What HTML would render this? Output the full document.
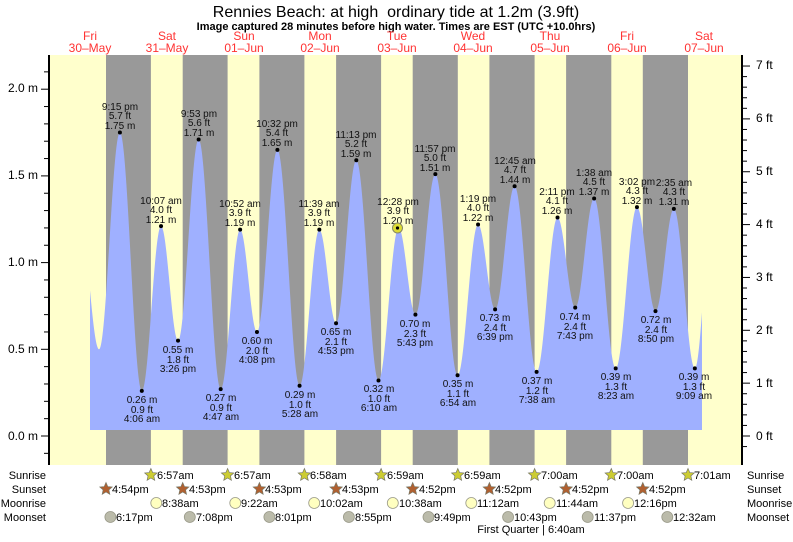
<!DOCTYPE html>
<html><head><meta charset="utf-8"><style>
body{margin:0;background:#fff;}
svg text{font-family:"Liberation Sans",sans-serif;}
</style></head><body>
<svg id="s" width="793" height="537" xmlns="http://www.w3.org/2000/svg">
<rect width="793" height="537" fill="#fff"/>
<text x="396" y="17" font-size="16" text-anchor="middle">Rennies Beach: at high&#160; ordinary tide at 1.2m (3.9ft)</text>
<text x="396" y="30" font-size="11" font-weight="bold" text-anchor="middle">Image captured 28 minutes before high water. Times are EST (UTC +10.0hrs)</text>
<g font-size="12" fill="#f33" text-anchor="middle">
<text x="90" y="40">Fri</text><text x="90" y="52">30–May</text>
<text x="167" y="40">Sat</text><text x="167" y="52">31–May</text>
<text x="244" y="40">Sun</text><text x="244" y="52">01–Jun</text>
<text x="320" y="40">Mon</text><text x="320" y="52">02–Jun</text>
<text x="397" y="40">Tue</text><text x="397" y="52">03–Jun</text>
<text x="473" y="40">Wed</text><text x="473" y="52">04–Jun</text>
<text x="550" y="40">Thu</text><text x="550" y="52">05–Jun</text>
<text x="627" y="40">Fri</text><text x="627" y="52">06–Jun</text>
<text x="704" y="40">Sat</text><text x="704" y="52">07–Jun</text>
</g>
<rect x="49" y="55" width="693" height="410" fill="#ffffcc"/>
<g fill="#999">
<rect x="106" y="55" width="44.9" height="410"/>
<rect x="182.7" y="55" width="44.9" height="410"/>
<rect x="259.4" y="55" width="45" height="410"/>
<rect x="336.1" y="55" width="45" height="410"/>
<rect x="412.7" y="55" width="45.1" height="410"/>
<rect x="489.4" y="55" width="45.2" height="410"/>
<rect x="566.1" y="55" width="45.2" height="410"/>
<rect x="642.8" y="55" width="45.2" height="410"/>
</g>
<path id="tide" fill="#9fb0ff" d=""/>
<g id="ticks" stroke="#000"></g>
<line x1="49" y1="55" x2="49" y2="465" stroke="#000" stroke-width="2"/>
<line x1="742" y1="55" x2="742" y2="465" stroke="#000" stroke-width="2"/>
<g font-size="12" text-anchor="end">
<text x="38" y="440">0.0 m</text><text x="38" y="353">0.5 m</text><text x="38" y="266">1.0 m</text><text x="38" y="179">1.5 m</text><text x="38" y="92">2.0 m</text>
</g>
<g font-size="12">
<text x="756" y="440">0 ft</text><text x="756" y="387">1 ft</text><text x="756" y="334">2 ft</text><text x="756" y="281">3 ft</text><text x="756" y="228">4 ft</text><text x="756" y="175">5 ft</text><text x="756" y="122">6 ft</text><text x="756" y="69">7 ft</text>
</g>
<g id="pts" fill="#000"></g>
<g font-size="10" text-anchor="middle" fill="#111">
<text x="120" y="110">9:15 pm</text><text x="120" y="119">5.7 ft</text><text x="120" y="129">1.75 m</text>
<text x="142" y="403">0.26 m</text><text x="142" y="413">0.9 ft</text><text x="142" y="422">4:06 am</text>
<text x="161" y="204">10:07 am</text><text x="161" y="213">4.0 ft</text><text x="161" y="223">1.21 m</text>
<text x="178" y="353">0.55 m</text><text x="178" y="363">1.8 ft</text><text x="178" y="372">3:26 pm</text>
<text x="199" y="117">9:53 pm</text><text x="199" y="126">5.6 ft</text><text x="199" y="136">1.71 m</text>
<text x="221" y="401">0.27 m</text><text x="221" y="411">0.9 ft</text><text x="221" y="420">4:47 am</text>
<text x="240" y="207">10:52 am</text><text x="240" y="216">3.9 ft</text><text x="240" y="226">1.19 m</text>
<text x="257" y="344">0.60 m</text><text x="257" y="354">2.0 ft</text><text x="257" y="363">4:08 pm</text>
<text x="277" y="127">10:32 pm</text><text x="277" y="136">5.4 ft</text><text x="277" y="146">1.65 m</text>
<text x="300" y="398">0.29 m</text><text x="300" y="408">1.0 ft</text><text x="300" y="417">5:28 am</text>
<text x="319" y="207">11:39 am</text><text x="319" y="216">3.9 ft</text><text x="319" y="226">1.19 m</text>
<text x="336" y="335">0.65 m</text><text x="336" y="345">2.1 ft</text><text x="336" y="354">4:53 pm</text>
<text x="356" y="138">11:13 pm</text><text x="356" y="147">5.2 ft</text><text x="356" y="157">1.59 m</text>
<text x="379" y="392">0.32 m</text><text x="379" y="402">1.0 ft</text><text x="379" y="411">6:10 am</text>
<text x="398" y="205">12:28 pm</text><text x="398" y="214">3.9 ft</text><text x="398" y="224">1.20 m</text>
<text x="415" y="327">0.70 m</text><text x="415" y="337">2.3 ft</text><text x="415" y="346">5:43 pm</text>
<text x="435" y="152">11:57 pm</text><text x="435" y="161">5.0 ft</text><text x="435" y="171">1.51 m</text>
<text x="458" y="387">0.35 m</text><text x="458" y="397">1.1 ft</text><text x="458" y="406">6:54 am</text>
<text x="478" y="202">1:19 pm</text><text x="478" y="211">4.0 ft</text><text x="478" y="221">1.22 m</text>
<text x="495" y="321">0.73 m</text><text x="495" y="331">2.4 ft</text><text x="495" y="340">6:39 pm</text>
<text x="515" y="164">12:45 am</text><text x="515" y="173">4.7 ft</text><text x="515" y="183">1.44 m</text>
<text x="537" y="384">0.37 m</text><text x="537" y="394">1.2 ft</text><text x="537" y="403">7:38 am</text>
<text x="557" y="195">2:11 pm</text><text x="557" y="204">4.1 ft</text><text x="557" y="214">1.26 m</text>
<text x="575" y="320">0.74 m</text><text x="575" y="330">2.4 ft</text><text x="575" y="339">7:43 pm</text>
<text x="594" y="176">1:38 am</text><text x="594" y="185">4.5 ft</text><text x="594" y="195">1.37 m</text>
<text x="616" y="380">0.39 m</text><text x="616" y="390">1.3 ft</text><text x="616" y="399">8:23 am</text>
<text x="637" y="185">3:02 pm</text><text x="637" y="194">4.3 ft</text><text x="637" y="204">1.32 m</text>
<text x="656" y="323">0.72 m</text><text x="656" y="333">2.4 ft</text><text x="656" y="342">8:50 pm</text>
<text x="674" y="186">2:35 am</text><text x="674" y="195">4.3 ft</text><text x="674" y="205">1.31 m</text>
<text x="694" y="380">0.39 m</text><text x="694" y="390">1.3 ft</text><text x="694" y="399">9:09 am</text>
</g>
<circle cx="397.5" cy="228" r="5" fill="#dd3" stroke="#886" stroke-width="1"/>
<circle cx="397.5" cy="228" r="1.6" fill="#000"/>
<g font-size="11" text-anchor="end">
<text x="46" y="479">Sunrise</text><text x="46" y="493">Sunset</text><text x="46" y="507">Moonrise</text><text x="46" y="521">Moonset</text>
</g>
<g font-size="11">
<text x="747" y="479">Sunrise</text><text x="747" y="493">Sunset</text><text x="747" y="507">Moonrise</text><text x="747" y="521">Moonset</text>
</g>
<g id="icons"></g>
<g font-size="11">
<text x="157" y="479">6:57am</text><text x="234" y="479">6:57am</text><text x="310" y="479">6:58am</text><text x="387" y="479">6:59am</text><text x="464" y="479">6:59am</text><text x="541" y="479">7:00am</text><text x="617" y="479">7:00am</text><text x="694" y="479">7:01am</text>
<text x="112" y="493">4:54pm</text><text x="189" y="493">4:53pm</text><text x="265" y="493">4:53pm</text><text x="342" y="493">4:53pm</text><text x="419" y="493">4:52pm</text><text x="495" y="493">4:52pm</text><text x="572" y="493">4:52pm</text><text x="649" y="493">4:52pm</text>
<text x="162" y="507">8:38am</text><text x="241" y="507">9:22am</text><text x="320" y="507">10:02am</text><text x="399" y="507">10:38am</text><text x="477" y="507">11:12am</text><text x="556" y="507">11:44am</text><text x="634" y="507">12:16pm</text>
<text x="116" y="521">6:17pm</text><text x="196" y="521">7:08pm</text><text x="275" y="521">8:01pm</text><text x="355" y="521">8:55pm</text><text x="434" y="521">9:49pm</text><text x="514" y="521">10:43pm</text><text x="594" y="521">11:37pm</text><text x="673" y="521">12:32am</text>
</g>
<text x="531" y="533" font-size="11" text-anchor="middle">First Quarter | 6:40am</text>
</svg>
<script>
(function(){
var NS="http://www.w3.org/2000/svg";
function X(t){return 52+76.7*t;}
function Y(m){return 436-173.4*m;}
var E=[[0.363,1.25],[0.613,0.50],[0.8854,1.75],[1.1708,0.26],[1.4215,1.21],[1.6431,0.55],[1.9118,1.71],[2.1993,0.27],[2.4528,1.19],[2.6722,0.60],[2.9389,1.65],[3.2278,0.29],[3.4854,1.19],[3.7035,0.65],[3.9674,1.59],[4.2569,0.32],[4.5194,1.20],[4.7382,0.70],[4.9979,1.51],[5.2875,0.35],[5.5549,1.22],[5.7771,0.73],[6.0313,1.44],[6.3181,0.37],[6.5910,1.26],[6.8215,0.74],[7.0681,1.37],[7.3493,0.39],[7.6264,1.32],[7.8681,0.72],[8.1076,1.31],[8.3813,0.39],[8.6105,1.30]];
function h(t){for(var i=0;i<E.length-1;i++){if(t>=E[i][0]&&t<=E[i+1][0]){var f=(t-E[i][0])/(E[i+1][0]-E[i][0]);return E[i][1]+(E[i+1][1]-E[i][1])*(1-Math.cos(Math.PI*f))/2;}}return 0.5;}
var d="M90,430";
for(var x=90;x<=702;x+=0.5){var t=(x-52)/76.7;d+=" L"+x+","+Y(h(t)).toFixed(2);}
d+=" L702,430 Z";
document.getElementById("tide").setAttribute("d",d);
var pts=document.getElementById("pts");
for(var i=2;i<E.length-1;i++){var c=document.createElementNS(NS,"circle");c.setAttribute("cx",X(E[i][0]));c.setAttribute("cy",Y(E[i][1]));c.setAttribute("r",2);pts.appendChild(c);}
var tk=document.getElementById("ticks");
function ln(x1,y1,x2,y2){var l=document.createElementNS(NS,"line");l.setAttribute("x1",x1);l.setAttribute("y1",y1);l.setAttribute("x2",x2);l.setAttribute("y2",y2);l.setAttribute("stroke-width",1);tk.appendChild(l);}
for(var m=-0.1;m<=2.2;m+=0.1){var y=Y(m);if(y<56||y>465)continue;var maj=Math.abs(m*2-Math.round(m*2))<0.01;ln(maj?41:44,y,49,y);}
for(var f=-0.2;f<=7.2;f+=0.2){var y=Y(f*0.3048);if(y<56||y>465)continue;var maj=Math.abs(f-Math.round(f))<0.01;ln(742,y,maj?750:747,y);}
var ic=document.getElementById("icons");
function star(cx,cy,fill){var p="";for(var k=0;k<10;k++){var r=k%2?3:6.5;var a=-Math.PI/2+k*Math.PI/5;p+=(cx+r*Math.cos(a)).toFixed(1)+","+(cy+r*Math.sin(a)).toFixed(1)+" ";}var s=document.createElementNS(NS,"polygon");s.setAttribute("points",p);s.setAttribute("fill",fill);s.setAttribute("stroke","#776");s.setAttribute("stroke-width","0.7");ic.appendChild(s);}
function circ(cx,cy,fill){var c=document.createElementNS(NS,"circle");c.setAttribute("cx",cx);c.setAttribute("cy",cy);c.setAttribute("r",5.5);c.setAttribute("fill",fill);c.setAttribute("stroke","#998");c.setAttribute("stroke-width","0.8");ic.appendChild(c);}
[150.9,227.6,304.4,381.1,457.8,534.6,611.3,688].forEach(function(x){star(x,475,"#cc3");});
[106,182.7,259.4,336.1,412.7,489.4,566.1,642.8].forEach(function(x){star(x,489,"#b06030");});
[156.3,235.3,314.2,392.8,471.3,549.7,628.1].forEach(function(x){circ(x,503,"#ffffc0");});
[110.4,189.8,269.4,348.9,428.5,508.1,587.7,667.3].forEach(function(x){circ(x,517,"#bbbbaa");});
})();
</script>
</body></html>
